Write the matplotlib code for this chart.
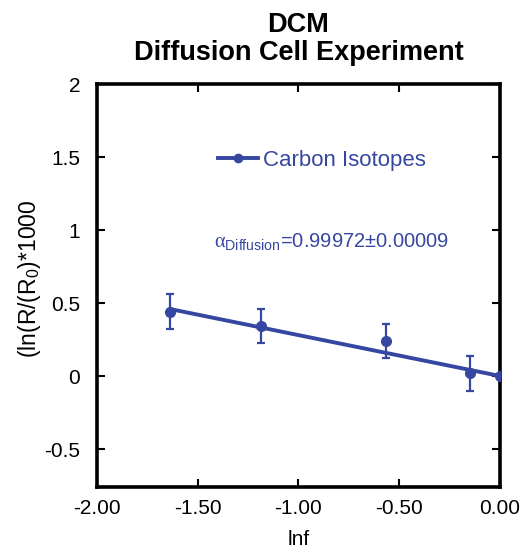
import numpy as np
import matplotlib
matplotlib.use('Agg')
import matplotlib.pyplot as plt
from matplotlib.lines import Line2D

# data
ln_f = [-1.638, -1.188, -0.567, -0.149, 0.0]
ln_ratio = [0.44, 0.342, 0.238, 0.018, 0.0]
ln_ratio_err = [0.12, 0.117, 0.118, 0.118, 0.0]
fit_x = [-1.638, 0.0]
fit_y = [0.459, 0.0]

x_ticks = [-2.0, -1.5, -1.0, -0.5, 0.0]
y_ticks = [-0.5, 0, 0.5, 1, 1.5, 2]
y_tick_labels = ['-0.5', '0', '0.5', '1', '1.5', '2']

blue = '#3547A0'

plt.rcParams['font.family'] = ['Liberation Sans', 'DejaVu Sans']
plt.rcParams['mathtext.fontset'] = 'custom'
plt.rcParams['mathtext.rm'] = 'Liberation Sans'
plt.rcParams['mathtext.it'] = 'Liberation Sans:italic'
plt.rcParams['mathtext.sf'] = 'Liberation Serif'

fig = plt.figure(figsize=(5.2, 5.51), dpi=100)
ax = fig.add_axes([0.1865, 0.1162, 0.775, 0.7313])

# fitted line
ax.plot(fit_x, fit_y, color=blue, lw=2.8, solid_capstyle='butt', zorder=2)
# measured points
ax.errorbar(ln_f, ln_ratio, yerr=ln_ratio_err, fmt='o', color=blue, ms=7,
            elinewidth=1.6, capsize=2.6, capthick=1.6, zorder=3)

ax.set_xlim(-2.0, 0.0)
ax.set_ylim(-0.76, 2.0)
ax.set_xticks(x_ticks)
ax.set_xticklabels(['%.2f' % v for v in x_ticks])
ax.set_yticks(y_ticks)
ax.set_yticklabels(y_tick_labels)
ax.tick_params(direction='in', length=6, width=1.5, labelsize=15, right=True, top=True)
ax.tick_params(axis='y', pad=12)
ax.tick_params(axis='x', pad=9)
for s in ax.spines.values():
    s.set_linewidth(2.6)

ax.set_xlabel('lnf', fontsize=15, labelpad=8.5)
ax.set_ylabel(r'(ln(R/(R$_0$)*1000', fontsize=16.5)
ax.yaxis.set_label_coords(-0.133, 0.516)

ax.set_title('DCM\nDiffusion Cell Experiment', fontsize=19.5, fontweight='bold',
             pad=17, linespacing=1.1)

handle = Line2D([], [], color=blue, lw=2.8, marker='o', ms=6)
ax.legend([handle], ['Carbon Isotopes'], loc='center left',
          bbox_to_anchor=(0.3, 0.811), frameon=False, fontsize=16,
          handlelength=1.8, handletextpad=0.25, borderpad=0, borderaxespad=0,
          labelcolor=blue)

ax.text(0.29, 0.608, r'$\mathsf{\alpha}_{\mathrm{Diffusion}}$=0.99972±0.00009',
        transform=ax.transAxes, color=blue, fontsize=14.5, va='center', ha='left')

fig.savefig('out.png', dpi=100)
